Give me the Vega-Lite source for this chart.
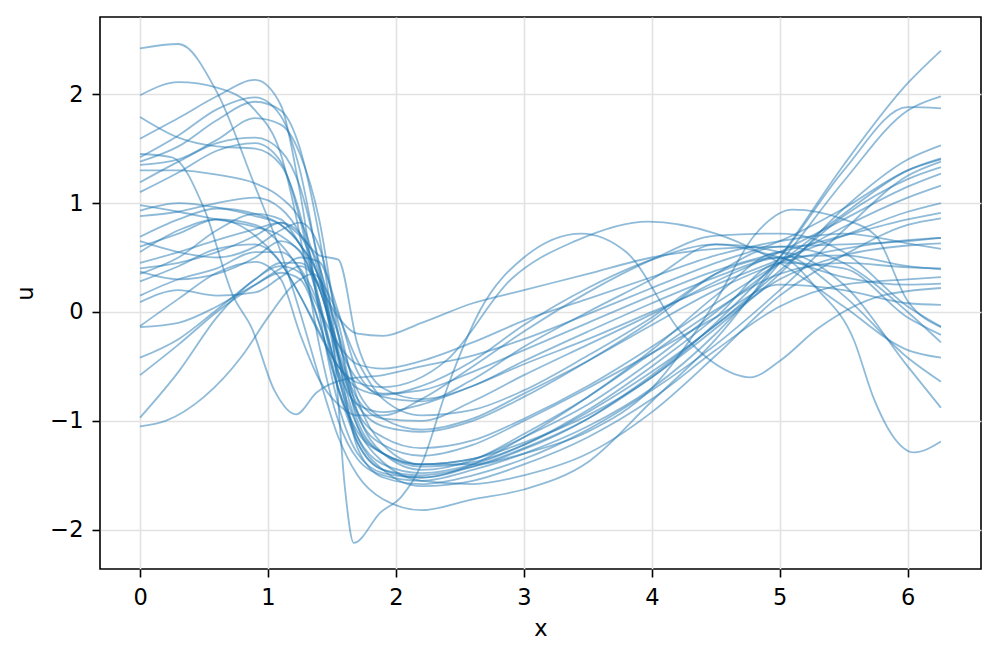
{
"$schema": "https://vega.github.io/schema/vega-lite/v6.json",
"width": 881, "height": 552,
"autosize": {"type": "none"},
"padding": {"left": 100, "top": 17, "right": 16, "bottom": 89},
"background": "white",
"config": {
 "view": {"stroke": "black", "strokeWidth": 1.6},
 "font": "DejaVu Sans",
 "axis": {"domain": false, "tickColor": "black", "tickWidth": 1.6, "tickSize": 8, "labelFontSize": 22.5, "labelColor": "black", "labelPadding": 9, "titleFontSize": 22.5, "titleFontWeight": "normal", "titleColor": "black", "gridColor": "#e2e2e2", "gridWidth": 1.6, "labelFlush": false}
},
"data": {"values": [
{"c":1,"x":0,"u":2.42},{"c":1,"x":0.3,"u":2.46},{"c":1,"x":0.6,"u":2.02},{"c":1,"x":0.9,"u":1.15},{"c":1,"x":1.1,"u":0.55},{"c":1,"x":1.25,"u":0.0},{"c":1,"x":1.4,"u":-0.6},{"c":1,"x":1.55,"u":-1.15},{"c":1,"x":1.7,"u":-1.5},{"c":1,"x":1.9,"u":-1.72},{"c":1,"x":2.2,"u":-1.82},{"c":1,"x":2.6,"u":-1.72},{"c":1,"x":3,"u":-1.63},{"c":1,"x":3.5,"u":-1.38},{"c":1,"x":4,"u":-0.82},{"c":1,"x":4.5,"u":-0.25},{"c":1,"x":5,"u":0.5},{"c":1,"x":5.5,"u":1.35},{"c":1,"x":6,"u":2.1},{"c":1,"x":6.26,"u":2.4},
{"c":2,"x":0,"u":1.99},{"c":2,"x":0.3,"u":2.11},{"c":2,"x":0.6,"u":2.06},{"c":2,"x":0.9,"u":1.85},{"c":2,"x":1.1,"u":1.45},{"c":2,"x":1.25,"u":0.7},{"c":2,"x":1.4,"u":-0.3},{"c":2,"x":1.55,"u":-1.0},{"c":2,"x":1.7,"u":-1.35},{"c":2,"x":1.9,"u":-1.5},{"c":2,"x":2.2,"u":-1.55},{"c":2,"x":2.6,"u":-1.45},{"c":2,"x":3,"u":-1.3},{"c":2,"x":3.5,"u":-1.05},{"c":2,"x":4,"u":-0.7},{"c":2,"x":4.5,"u":-0.2},{"c":2,"x":5,"u":0.45},{"c":2,"x":5.5,"u":1.2},{"c":2,"x":6,"u":1.85},{"c":2,"x":6.26,"u":1.98},
{"c":3,"x":0,"u":1.79},{"c":3,"x":0.3,"u":1.6},{"c":3,"x":0.6,"u":1.52},{"c":3,"x":0.9,"u":1.5},{"c":3,"x":1.1,"u":1.35},{"c":3,"x":1.25,"u":0.9},{"c":3,"x":1.4,"u":0.1},{"c":3,"x":1.55,"u":-0.7},{"c":3,"x":1.7,"u":-1.1},{"c":3,"x":1.9,"u":-1.3},{"c":3,"x":2.2,"u":-1.4},{"c":3,"x":2.6,"u":-1.35},{"c":3,"x":3,"u":-1.2},{"c":3,"x":3.5,"u":-0.95},{"c":3,"x":4,"u":-0.6},{"c":3,"x":4.5,"u":-0.1},{"c":3,"x":5,"u":0.5},{"c":3,"x":5.5,"u":1.3},{"c":3,"x":6,"u":1.88},{"c":3,"x":6.26,"u":1.87},
{"c":4,"x":0,"u":1.59},{"c":4,"x":0.3,"u":1.78},{"c":4,"x":0.6,"u":1.98},{"c":4,"x":0.9,"u":2.13},{"c":4,"x":1.1,"u":1.9},{"c":4,"x":1.25,"u":1.1},{"c":4,"x":1.4,"u":0.0},{"c":4,"x":1.55,"u":-0.85},{"c":4,"x":1.7,"u":-1.3},{"c":4,"x":1.9,"u":-1.48},{"c":4,"x":2.2,"u":-1.52},{"c":4,"x":2.6,"u":-1.42},{"c":4,"x":3,"u":-1.25},{"c":4,"x":3.5,"u":-0.98},{"c":4,"x":4,"u":-0.6},{"c":4,"x":4.5,"u":-0.15},{"c":4,"x":5,"u":0.35},{"c":4,"x":5.5,"u":0.95},{"c":4,"x":6,"u":1.4},{"c":4,"x":6.26,"u":1.53},
{"c":5,"x":0,"u":1.42},{"c":5,"x":0.3,"u":1.62},{"c":5,"x":0.6,"u":1.86},{"c":5,"x":0.9,"u":1.97},{"c":5,"x":1.1,"u":1.8},{"c":5,"x":1.25,"u":1.3},{"c":5,"x":1.4,"u":0.4},{"c":5,"x":1.55,"u":-0.55},{"c":5,"x":1.7,"u":-1.05},{"c":5,"x":1.9,"u":-1.3},{"c":5,"x":2.2,"u":-1.4},{"c":5,"x":2.6,"u":-1.35},{"c":5,"x":3,"u":-1.15},{"c":5,"x":3.5,"u":-0.85},{"c":5,"x":4,"u":-0.45},{"c":5,"x":4.5,"u":0.0},{"c":5,"x":5,"u":0.45},{"c":5,"x":5.5,"u":0.9},{"c":5,"x":6,"u":1.3},{"c":5,"x":6.26,"u":1.41},
{"c":6,"x":0,"u":1.38},{"c":6,"x":0.3,"u":1.52},{"c":6,"x":0.6,"u":1.76},{"c":6,"x":0.9,"u":1.93},{"c":6,"x":1.1,"u":1.85},{"c":6,"x":1.25,"u":1.5},{"c":6,"x":1.4,"u":0.7},{"c":6,"x":1.55,"u":-0.4},{"c":6,"x":1.7,"u":-1.25},{"c":6,"x":1.9,"u":-1.52},{"c":6,"x":2.2,"u":-1.58},{"c":6,"x":2.6,"u":-1.5},{"c":6,"x":3,"u":-1.35},{"c":6,"x":3.5,"u":-1.08},{"c":6,"x":4,"u":-0.72},{"c":6,"x":4.5,"u":-0.3},{"c":6,"x":5,"u":0.2},{"c":6,"x":5.5,"u":0.75},{"c":6,"x":6,"u":1.25},{"c":6,"x":6.26,"u":1.38},
{"c":7,"x":0,"u":1.35},{"c":7,"x":0.3,"u":1.4},{"c":7,"x":0.6,"u":1.58},{"c":7,"x":0.9,"u":1.78},{"c":7,"x":1.1,"u":1.72},{"c":7,"x":1.25,"u":1.45},{"c":7,"x":1.4,"u":0.85},{"c":7,"x":1.55,"u":-0.2},{"c":7,"x":1.7,"u":-1.0},{"c":7,"x":1.9,"u":-1.3},{"c":7,"x":2.2,"u":-1.42},{"c":7,"x":2.6,"u":-1.38},{"c":7,"x":3,"u":-1.22},{"c":7,"x":3.5,"u":-0.92},{"c":7,"x":4,"u":-0.55},{"c":7,"x":4.5,"u":-0.12},{"c":7,"x":5,"u":0.38},{"c":7,"x":5.5,"u":0.88},{"c":7,"x":6,"u":1.22},{"c":7,"x":6.26,"u":1.33},
{"c":8,"x":0,"u":1.3},{"c":8,"x":0.3,"u":1.3},{"c":8,"x":0.6,"u":1.26},{"c":8,"x":0.9,"u":1.18},{"c":8,"x":1.1,"u":1.05},{"c":8,"x":1.25,"u":0.85},{"c":8,"x":1.4,"u":0.35},{"c":8,"x":1.55,"u":-0.35},{"c":8,"x":1.7,"u":-0.8},{"c":8,"x":1.9,"u":-0.98},{"c":8,"x":2.2,"u":-1.0},{"c":8,"x":2.6,"u":-0.82},{"c":8,"x":3,"u":-0.58},{"c":8,"x":3.5,"u":-0.3},{"c":8,"x":4,"u":-0.02},{"c":8,"x":4.5,"u":0.28},{"c":8,"x":5,"u":0.55},{"c":8,"x":5.5,"u":0.85},{"c":8,"x":6,"u":1.15},{"c":8,"x":6.26,"u":1.27},
{"c":9,"x":0,"u":1.19},{"c":9,"x":0.3,"u":1.38},{"c":9,"x":0.6,"u":1.55},{"c":9,"x":0.9,"u":1.6},{"c":9,"x":1.1,"u":1.48},{"c":9,"x":1.25,"u":1.15},{"c":9,"x":1.4,"u":0.45},{"c":9,"x":1.55,"u":-0.4},{"c":9,"x":1.7,"u":-0.92},{"c":9,"x":1.9,"u":-1.15},{"c":9,"x":2.2,"u":-1.25},{"c":9,"x":2.6,"u":-1.18},{"c":9,"x":3,"u":-0.98},{"c":9,"x":3.5,"u":-0.68},{"c":9,"x":4,"u":-0.32},{"c":9,"x":4.5,"u":0.08},{"c":9,"x":5,"u":0.45},{"c":9,"x":5.5,"u":0.78},{"c":9,"x":6,"u":1.05},{"c":9,"x":6.26,"u":1.16},
{"c":10,"x":0,"u":1.1},{"c":10,"x":0.3,"u":1.28},{"c":10,"x":0.6,"u":1.48},{"c":10,"x":0.9,"u":1.55},{"c":10,"x":1.1,"u":1.38},{"c":10,"x":1.25,"u":0.85},{"c":10,"x":1.4,"u":0.05},{"c":10,"x":1.55,"u":-0.55},{"c":10,"x":1.7,"u":-0.85},{"c":10,"x":1.9,"u":-0.92},{"c":10,"x":2.2,"u":-0.85},{"c":10,"x":2.6,"u":-0.68},{"c":10,"x":3,"u":-0.48},{"c":10,"x":3.5,"u":-0.25},{"c":10,"x":4,"u":0.0},{"c":10,"x":4.5,"u":0.25},{"c":10,"x":5,"u":0.48},{"c":10,"x":5.5,"u":0.7},{"c":10,"x":6,"u":0.92},{"c":10,"x":6.26,"u":1.0},
{"c":11,"x":0,"u":0.93},{"c":11,"x":0.3,"u":1.0},{"c":11,"x":0.6,"u":0.96},{"c":11,"x":0.9,"u":0.88},{"c":11,"x":1.1,"u":0.8},{"c":11,"x":1.25,"u":0.62},{"c":11,"x":1.4,"u":0.22},{"c":11,"x":1.55,"u":-0.3},{"c":11,"x":1.7,"u":-0.62},{"c":11,"x":1.9,"u":-0.75},{"c":11,"x":2.2,"u":-0.72},{"c":11,"x":2.6,"u":-0.55},{"c":11,"x":3,"u":-0.35},{"c":11,"x":3.5,"u":-0.1},{"c":11,"x":4,"u":0.15},{"c":11,"x":4.5,"u":0.38},{"c":11,"x":5,"u":0.55},{"c":11,"x":5.5,"u":0.7},{"c":11,"x":6,"u":0.85},{"c":11,"x":6.26,"u":0.91},
{"c":12,"x":0,"u":0.88},{"c":12,"x":0.3,"u":0.92},{"c":12,"x":0.6,"u":1.0},{"c":12,"x":0.9,"u":1.05},{"c":12,"x":1.1,"u":0.95},{"c":12,"x":1.25,"u":0.72},{"c":12,"x":1.4,"u":0.3},{"c":12,"x":1.55,"u":-0.45},{"c":12,"x":1.7,"u":-1.05},{"c":12,"x":1.9,"u":-1.38},{"c":12,"x":2.2,"u":-1.55},{"c":12,"x":2.6,"u":-1.58},{"c":12,"x":3,"u":-1.5},{"c":12,"x":3.5,"u":-1.3},{"c":12,"x":4,"u":-0.92},{"c":12,"x":4.5,"u":-0.4},{"c":12,"x":5,"u":0.15},{"c":12,"x":5.5,"u":0.52},{"c":12,"x":6,"u":0.8},{"c":12,"x":6.26,"u":0.86},
{"c":13,"x":0,"u":0.69},{"c":13,"x":0.3,"u":0.85},{"c":13,"x":0.6,"u":0.95},{"c":13,"x":0.9,"u":0.9},{"c":13,"x":1.1,"u":0.8},{"c":13,"x":1.25,"u":0.62},{"c":13,"x":1.4,"u":0.32},{"c":13,"x":1.55,"u":-0.2},{"c":13,"x":1.7,"u":-0.72},{"c":13,"x":1.9,"u":-0.98},{"c":13,"x":2.2,"u":-1.08},{"c":13,"x":2.6,"u":-0.98},{"c":13,"x":3,"u":-0.75},{"c":13,"x":3.5,"u":-0.45},{"c":13,"x":4,"u":-0.12},{"c":13,"x":4.5,"u":0.2},{"c":13,"x":5,"u":0.45},{"c":13,"x":5.5,"u":0.58},{"c":13,"x":6,"u":0.66},{"c":13,"x":6.26,"u":0.68},
{"c":14,"x":0,"u":0.65},{"c":14,"x":0.3,"u":0.55},{"c":14,"x":0.6,"u":0.5},{"c":14,"x":0.9,"u":0.6},{"c":14,"x":1.1,"u":0.75},{"c":14,"x":1.25,"u":0.82},{"c":14,"x":1.4,"u":0.6},{"c":14,"x":1.55,"u":-0.1},{"c":14,"x":1.7,"u":-0.8},{"c":14,"x":1.9,"u":-1.22},{"c":14,"x":2.2,"u":-1.4},{"c":14,"x":2.6,"u":-1.4},{"c":14,"x":3,"u":-1.26},{"c":14,"x":3.5,"u":-0.98},{"c":14,"x":4,"u":-0.58},{"c":14,"x":4.5,"u":-0.12},{"c":14,"x":5,"u":0.3},{"c":14,"x":5.5,"u":0.52},{"c":14,"x":6,"u":0.61},{"c":14,"x":6.26,"u":0.63},
{"c":15,"x":0,"u":0.6},{"c":15,"x":0.3,"u":0.72},{"c":15,"x":0.6,"u":0.85},{"c":15,"x":0.9,"u":0.8},{"c":15,"x":1.1,"u":0.62},{"c":15,"x":1.25,"u":0.38},{"c":15,"x":1.4,"u":0.02},{"c":15,"x":1.55,"u":-0.3},{"c":15,"x":1.7,"u":-0.48},{"c":15,"x":1.9,"u":-0.52},{"c":15,"x":2.2,"u":-0.45},{"c":15,"x":2.6,"u":-0.28},{"c":15,"x":3,"u":-0.08},{"c":15,"x":3.5,"u":0.12},{"c":15,"x":4,"u":0.32},{"c":15,"x":4.5,"u":0.52},{"c":15,"x":5,"u":0.65},{"c":15,"x":5.5,"u":0.72},{"c":15,"x":6,"u":0.63},{"c":15,"x":6.26,"u":0.58},
{"c":16,"x":0,"u":0.45},{"c":16,"x":0.3,"u":0.55},{"c":16,"x":0.6,"u":0.66},{"c":16,"x":0.9,"u":0.76},{"c":16,"x":1.1,"u":0.82},{"c":16,"x":1.25,"u":0.72},{"c":16,"x":1.4,"u":0.42},{"c":16,"x":1.55,"u":-0.22},{"c":16,"x":1.7,"u":-0.92},{"c":16,"x":1.9,"u":-1.3},{"c":16,"x":2.2,"u":-1.45},{"c":16,"x":2.6,"u":-1.36},{"c":16,"x":3,"u":-1.12},{"c":16,"x":3.5,"u":-0.78},{"c":16,"x":4,"u":-0.38},{"c":16,"x":4.5,"u":0.02},{"c":16,"x":5,"u":0.35},{"c":16,"x":5.5,"u":0.45},{"c":16,"x":6,"u":0.41},{"c":16,"x":6.26,"u":0.4},
{"c":17,"x":0,"u":0.4},{"c":17,"x":0.3,"u":0.45},{"c":17,"x":0.6,"u":0.55},{"c":17,"x":0.9,"u":0.7},{"c":17,"x":1.1,"u":0.82},{"c":17,"x":1.25,"u":0.7},{"c":17,"x":1.4,"u":0.52},{"c":17,"x":1.55,"u":0.48},{"c":17,"x":1.7,"u":-0.3},{"c":17,"x":1.9,"u":-0.7},{"c":17,"x":2.2,"u":-0.8},{"c":17,"x":2.6,"u":-0.68},{"c":17,"x":3,"u":-0.45},{"c":17,"x":3.5,"u":-0.18},{"c":17,"x":4,"u":0.08},{"c":17,"x":4.5,"u":0.32},{"c":17,"x":5,"u":0.5},{"c":17,"x":5.5,"u":0.52},{"c":17,"x":6,"u":0.42},{"c":17,"x":6.26,"u":0.39},
{"c":18,"x":0,"u":0.37},{"c":18,"x":0.3,"u":0.3},{"c":18,"x":0.6,"u":0.35},{"c":18,"x":0.9,"u":0.5},{"c":18,"x":1.1,"u":0.65},{"c":18,"x":1.25,"u":0.56},{"c":18,"x":1.4,"u":0.1},{"c":18,"x":1.55,"u":-0.6},{"c":18,"x":1.7,"u":-1.15},{"c":18,"x":1.9,"u":-1.45},{"c":18,"x":2.2,"u":-1.6},{"c":18,"x":2.6,"u":-1.55},{"c":18,"x":3,"u":-1.4},{"c":18,"x":3.5,"u":-1.15},{"c":18,"x":4,"u":-0.8},{"c":18,"x":4.5,"u":-0.35},{"c":18,"x":5,"u":0.05},{"c":18,"x":5.5,"u":0.25},{"c":18,"x":6,"u":0.3},{"c":18,"x":6.26,"u":0.32},
{"c":19,"x":0,"u":0.28},{"c":19,"x":0.3,"u":0.42},{"c":19,"x":0.6,"u":0.58},{"c":19,"x":0.9,"u":0.62},{"c":19,"x":1.1,"u":0.45},{"c":19,"x":1.25,"u":0.15},{"c":19,"x":1.4,"u":-0.18},{"c":19,"x":1.55,"u":-0.5},{"c":19,"x":1.7,"u":-0.7},{"c":19,"x":1.9,"u":-0.76},{"c":19,"x":2.2,"u":-0.68},{"c":19,"x":2.6,"u":-0.45},{"c":19,"x":3,"u":-0.12},{"c":19,"x":3.5,"u":0.22},{"c":19,"x":4,"u":0.48},{"c":19,"x":4.5,"u":0.62},{"c":19,"x":5,"u":0.5},{"c":19,"x":5.5,"u":0.32},{"c":19,"x":6,"u":0.25},{"c":19,"x":6.26,"u":0.26},
{"c":20,"x":0,"u":0.09},{"c":20,"x":0.3,"u":0.2},{"c":20,"x":0.6,"u":0.15},{"c":20,"x":0.9,"u":0.18},{"c":20,"x":1.1,"u":0.32},{"c":20,"x":1.25,"u":0.42},{"c":20,"x":1.4,"u":0.22},{"c":20,"x":1.55,"u":-0.4},{"c":20,"x":1.7,"u":-0.95},{"c":20,"x":1.9,"u":-1.22},{"c":20,"x":2.2,"u":-1.32},{"c":20,"x":2.6,"u":-1.22},{"c":20,"x":3,"u":-1.0},{"c":20,"x":3.5,"u":-0.7},{"c":20,"x":4,"u":-0.38},{"c":20,"x":4.5,"u":-0.05},{"c":20,"x":5,"u":0.25},{"c":20,"x":5.5,"u":0.2},{"c":20,"x":6,"u":0.08},{"c":20,"x":6.26,"u":0.065},
{"c":21,"x":0,"u":-0.13},{"c":21,"x":0.3,"u":0.12},{"c":21,"x":0.6,"u":0.36},{"c":21,"x":0.9,"u":0.46},{"c":21,"x":1.1,"u":0.3},{"c":21,"x":1.25,"u":-0.2},{"c":21,"x":1.4,"u":-0.62},{"c":21,"x":1.55,"u":-0.85},{"c":21,"x":1.7,"u":-0.95},{"c":21,"x":1.9,"u":-0.95},{"c":21,"x":2.2,"u":-0.8},{"c":21,"x":2.6,"u":-0.5},{"c":21,"x":3,"u":-0.18},{"c":21,"x":3.5,"u":0.18},{"c":21,"x":4,"u":0.48},{"c":21,"x":4.5,"u":0.7},{"c":21,"x":5,"u":0.72},{"c":21,"x":5.5,"u":0.55},{"c":21,"x":6,"u":0.05},{"c":21,"x":6.26,"u":-0.135},
{"c":22,"x":0,"u":-0.14},{"c":22,"x":0.3,"u":-0.1},{"c":22,"x":0.6,"u":0.05},{"c":22,"x":0.9,"u":0.25},{"c":22,"x":1.1,"u":0.36},{"c":22,"x":1.25,"u":0.3},{"c":22,"x":1.4,"u":-0.1},{"c":22,"x":1.55,"u":-0.7},{"c":22,"x":1.7,"u":-1.15},{"c":22,"x":1.9,"u":-1.4},{"c":22,"x":2.2,"u":-1.48},{"c":22,"x":2.6,"u":-1.4},{"c":22,"x":3,"u":-1.22},{"c":22,"x":3.5,"u":-0.9},{"c":22,"x":4,"u":-0.5},{"c":22,"x":4.5,"u":-0.05},{"c":22,"x":5,"u":0.45},{"c":22,"x":5.5,"u":0.4},{"c":22,"x":6,"u":-0.05},{"c":22,"x":6.26,"u":-0.21},
{"c":23,"x":0,"u":-0.42},{"c":23,"x":0.3,"u":-0.25},{"c":23,"x":0.6,"u":0.02},{"c":23,"x":0.9,"u":0.3},{"c":23,"x":1.1,"u":0.45},{"c":23,"x":1.25,"u":0.45},{"c":23,"x":1.4,"u":0.22},{"c":23,"x":1.55,"u":-0.4},{"c":23,"x":1.7,"u":-0.85},{"c":23,"x":1.9,"u":-1.05},{"c":23,"x":2.2,"u":-1.1},{"c":23,"x":2.6,"u":-1.0},{"c":23,"x":3,"u":-0.78},{"c":23,"x":3.5,"u":-0.45},{"c":23,"x":4,"u":-0.08},{"c":23,"x":4.5,"u":0.35},{"c":23,"x":5,"u":0.6},{"c":23,"x":5.5,"u":0.45},{"c":23,"x":6,"u":0.0},{"c":23,"x":6.26,"u":-0.28},
{"c":24,"x":0,"u":-0.58},{"c":24,"x":0.3,"u":-0.3},{"c":24,"x":0.6,"u":0.0},{"c":24,"x":0.9,"u":0.25},{"c":24,"x":1.1,"u":0.4},{"c":24,"x":1.25,"u":0.5},{"c":24,"x":1.4,"u":0.46},{"c":24,"x":1.55,"u":0.0},{"c":24,"x":1.7,"u":-0.55},{"c":24,"x":1.9,"u":-0.78},{"c":24,"x":2.2,"u":-0.82},{"c":24,"x":2.6,"u":-0.62},{"c":24,"x":3,"u":-0.32},{"c":24,"x":3.5,"u":0.0},{"c":24,"x":4,"u":0.3},{"c":24,"x":4.5,"u":0.62},{"c":24,"x":5,"u":0.55},{"c":24,"x":5.5,"u":0.15},{"c":24,"x":6,"u":-0.42},{"c":24,"x":6.26,"u":-0.64},
{"c":25,"x":0,"u":-0.97},{"c":25,"x":0.3,"u":-0.55},{"c":25,"x":0.6,"u":-0.05},{"c":25,"x":0.9,"u":0.3},{"c":25,"x":1.1,"u":0.42},{"c":25,"x":1.25,"u":0.36},{"c":25,"x":1.4,"u":-0.1},{"c":25,"x":1.55,"u":-0.72},{"c":25,"x":1.7,"u":-1.2},{"c":25,"x":1.9,"u":-1.45},{"c":25,"x":2.2,"u":-1.52},{"c":25,"x":2.6,"u":-1.4},{"c":25,"x":3,"u":-1.15},{"c":25,"x":3.5,"u":-0.78},{"c":25,"x":4,"u":-0.35},{"c":25,"x":4.5,"u":0.15},{"c":25,"x":5,"u":0.55},{"c":25,"x":5.5,"u":0.25},{"c":25,"x":6,"u":-0.5},{"c":25,"x":6.26,"u":-0.88},
{"c":26,"x":0,"u":-1.05},{"c":26,"x":0.2,"u":-1.0},{"c":26,"x":0.5,"u":-0.78},{"c":26,"x":0.8,"u":-0.4},{"c":26,"x":1.0,"u":-0.05},{"c":26,"x":1.2,"u":0.25},{"c":26,"x":1.35,"u":0.35},{"c":26,"x":1.5,"u":0.1},{"c":26,"x":1.7,"u":-0.45},{"c":26,"x":1.9,"u":-0.8},{"c":26,"x":2.2,"u":-0.95},{"c":26,"x":2.6,"u":-0.9},{"c":26,"x":3,"u":-0.72},{"c":26,"x":3.5,"u":-0.4},{"c":26,"x":4,"u":-0.05},{"c":26,"x":4.5,"u":0.35},{"c":26,"x":5,"u":0.5},{"c":26,"x":5.3,"u":0.2},{"c":26,"x":5.58,"u":-0.26},{"c":26,"x":5.73,"u":-0.78},{"c":26,"x":5.89,"u":-1.15},{"c":26,"x":6.05,"u":-1.29},{"c":26,"x":6.26,"u":-1.19},
{"c":27,"x":0,"u":0.35},{"c":27,"x":0.3,"u":0.5},{"c":27,"x":0.6,"u":0.75},{"c":27,"x":0.9,"u":0.9},{"c":27,"x":1.1,"u":0.85},{"c":27,"x":1.25,"u":0.62},{"c":27,"x":1.4,"u":0.3},{"c":27,"x":1.52,"u":-0.4},{"c":27,"x":1.6,"u":-1.6},{"c":27,"x":1.67,"u":-2.12},{"c":27,"x":1.88,"u":-1.84},{"c":27,"x":2.04,"u":-1.7},{"c":27,"x":2.2,"u":-1.4},{"c":27,"x":2.4,"u":-0.7},{"c":27,"x":2.66,"u":0.02},{"c":27,"x":3.0,"u":0.5},{"c":27,"x":3.45,"u":0.72},{"c":27,"x":3.8,"u":0.55},{"c":27,"x":4.23,"u":-0.19},{"c":27,"x":4.5,"u":-0.48},{"c":27,"x":4.77,"u":-0.6},{"c":27,"x":5.0,"u":-0.45},{"c":27,"x":5.3,"u":-0.15},{"c":27,"x":5.8,"u":0.15},{"c":27,"x":6.26,"u":0.22},
{"c":28,"x":0,"u":1.45},{"c":28,"x":0.25,"u":1.42},{"c":28,"x":0.5,"u":0.95},{"c":28,"x":0.73,"u":0.14},{"c":28,"x":0.87,"u":-0.14},{"c":28,"x":1.05,"u":-0.72},{"c":28,"x":1.22,"u":-0.94},{"c":28,"x":1.38,"u":-0.74},{"c":28,"x":1.6,"u":-0.62},{"c":28,"x":1.9,"u":-0.58},{"c":28,"x":2.2,"u":-0.5},{"c":28,"x":2.6,"u":-0.4},{"c":28,"x":3.0,"u":-0.25},{"c":28,"x":3.5,"u":-0.02},{"c":28,"x":4.0,"u":0.22},{"c":28,"x":4.5,"u":0.45},{"c":28,"x":5.0,"u":0.65},{"c":28,"x":5.5,"u":0.95},{"c":28,"x":6.0,"u":1.3},{"c":28,"x":6.26,"u":1.4},
{"c":29,"x":0,"u":0.55},{"c":29,"x":0.3,"u":0.75},{"c":29,"x":0.6,"u":0.85},{"c":29,"x":0.9,"u":0.7},{"c":29,"x":1.1,"u":0.45},{"c":29,"x":1.25,"u":0.15},{"c":29,"x":1.4,"u":-0.2},{"c":29,"x":1.55,"u":-0.5},{"c":29,"x":1.7,"u":-0.65},{"c":29,"x":1.9,"u":-0.69},{"c":29,"x":2.4,"u":-0.44},{"c":29,"x":2.9,"u":0.3},{"c":29,"x":3.4,"u":0.65},{"c":29,"x":3.97,"u":0.83},{"c":29,"x":4.5,"u":0.72},{"c":29,"x":5.0,"u":0.45},{"c":29,"x":5.5,"u":0.05},{"c":29,"x":6.0,"u":-0.35},{"c":29,"x":6.26,"u":-0.42},
{"c":30,"x":0,"u":0.15},{"c":30,"x":0.3,"u":0.3},{"c":30,"x":0.6,"u":0.4},{"c":30,"x":0.9,"u":0.55},{"c":30,"x":1.1,"u":0.55},{"c":30,"x":1.25,"u":0.4},{"c":30,"x":1.4,"u":0.05},{"c":30,"x":1.55,"u":-0.6},{"c":30,"x":1.7,"u":-1.2},{"c":30,"x":1.9,"u":-1.45},{"c":30,"x":2.2,"u":-1.5},{"c":30,"x":2.6,"u":-1.42},{"c":30,"x":3.0,"u":-1.3},{"c":30,"x":3.5,"u":-1.1},{"c":30,"x":4.0,"u":-0.7},{"c":30,"x":4.5,"u":0.1},{"c":30,"x":4.8,"u":0.7},{"c":30,"x":5.1,"u":0.94},{"c":30,"x":5.5,"u":0.85},{"c":30,"x":5.75,"u":0.7},{"c":30,"x":6.0,"u":0.1},{"c":30,"x":6.26,"u":-0.14},
{"c":31,"x":0,"u":0.98},{"c":31,"x":0.3,"u":0.92},{"c":31,"x":0.6,"u":0.85},{"c":31,"x":0.9,"u":0.78},{"c":31,"x":1.1,"u":0.7},{"c":31,"x":1.25,"u":0.55},{"c":31,"x":1.4,"u":0.25},{"c":31,"x":1.55,"u":-0.05},{"c":31,"x":1.7,"u":-0.2},{"c":31,"x":1.9,"u":-0.22},{"c":31,"x":2.2,"u":-0.1},{"c":31,"x":2.6,"u":0.08},{"c":31,"x":3,"u":0.2},{"c":31,"x":3.5,"u":0.35},{"c":31,"x":4,"u":0.5},{"c":31,"x":4.5,"u":0.58},{"c":31,"x":5,"u":0.6},{"c":31,"x":5.5,"u":0.62},{"c":31,"x":6,"u":0.65},{"c":31,"x":6.26,"u":0.68}
]},
"mark": {"type": "line", "interpolate": "monotone", "color": "#1f77b4", "opacity": 0.5, "strokeWidth": 1.8},
"encoding": {
 "x": {"field": "x", "type": "quantitative", "scale": {"domain": [-0.313, 6.573], "nice": false, "zero": false}, "axis": {"values": [0, 1, 2, 3, 4, 5, 6], "title": "x", "format": "d", "titlePadding": 9}},
 "y": {"field": "u", "type": "quantitative", "scale": {"domain": [-2.36, 2.708], "nice": false, "zero": false}, "axis": {"values": [-2, -1, 0, 1, 2], "title": "u", "format": "d", "titlePadding": 12}},
 "detail": {"field": "c", "type": "nominal"}
}
}
